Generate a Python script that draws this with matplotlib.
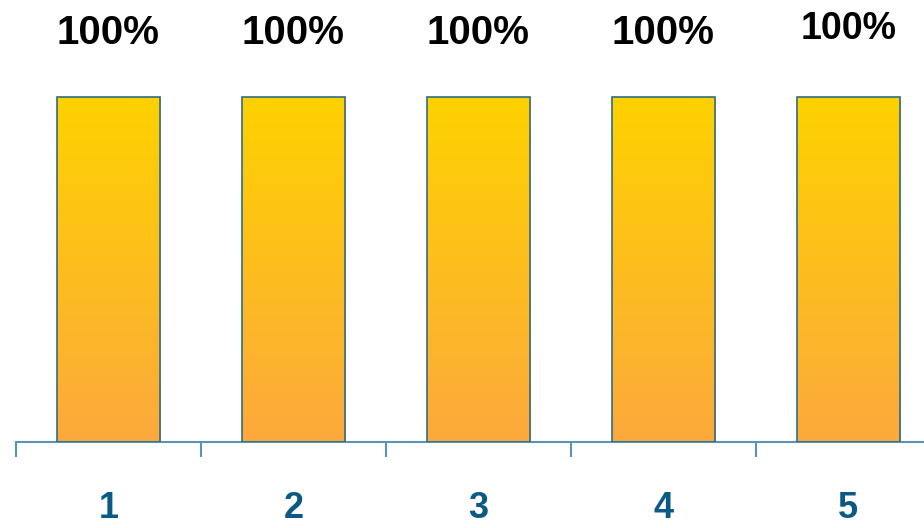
import numpy as np
import matplotlib
matplotlib.use("Agg")
from matplotlib import pyplot as plt
from matplotlib.colors import LinearSegmentedColormap

plt.rcParams['font.family'] = ['Liberation Sans', 'DejaVu Sans']

categories = ['1', '2', '3', '4', '5']
values = [100, 100, 100, 100, 100]
value_labels = ['100%', '100%', '100%', '100%', '100%']

axis_blue = '#5b93b3'
label_blue = '#0b5a85'
bar_edge = '#2f6e86'
grad = LinearSegmentedColormap.from_list('bar_grad', ['#fca93d', '#fed200'])

fig = plt.figure(figsize=(9.24, 5.28), dpi=100)
# axes bottom sits on the baseline, top runs to the figure edge
ax = fig.add_axes([16 / 924, 1 - 442 / 528, 908 / 924, 442 / 528])

x = np.arange(1, len(categories) + 1)
bars = ax.bar(x, values, width=0.557, color='none', edgecolor=bar_edge,
              linewidth=1.2, zorder=3)

# vertical gradient fill clipped to each bar
gradient = np.linspace(0, 1, 256).reshape(-1, 1)
for b in bars:
    x0, y0 = b.get_x(), b.get_y()
    im = ax.imshow(gradient, cmap=grad, origin='lower', aspect='auto',
                   extent=(x0, x0 + b.get_width(), y0, y0 + b.get_height()),
                   zorder=2)
    im.set_clip_path(b)

ax.set_xlim(0.5, 5.41)
ax.set_ylim(0, 100 * 442 / 345)

# value labels, the last one set a little smaller
for i, (xi, v, lab) in enumerate(zip(x, values, value_labels)):
    size = 27 if i == len(values) - 1 else 29
    dy = 68 if i == len(values) - 1 else 64
    ax.annotate(lab, (xi, v), xytext=(0, dy), textcoords='offset pixels',
                ha='center', va='center', fontsize=size, fontweight='bold',
                color='black')

for s in ['top', 'right', 'left']:
    ax.spines[s].set_visible(False)
ax.spines['bottom'].set_color(axis_blue)
ax.spines['bottom'].set_linewidth(1.5)
ax.set_yticks([])

# category boundaries as ticks, names centred under each bar
ax.set_xticks(np.arange(0.5, 5.5, 1.0))
ax.set_xticklabels([])
ax.tick_params(axis='x', direction='out', length=11, width=1.5, color=axis_blue)
ax.set_xticks(x, minor=True)
ax.set_xticklabels(categories, minor=True)
ax.tick_params(axis='x', which='minor', length=0, pad=35, labelsize=26,
               labelcolor=label_blue)
for t in ax.get_xticklabels(minor=True):
    t.set_fontweight('bold')

fig.savefig('out.png', dpi=100)
